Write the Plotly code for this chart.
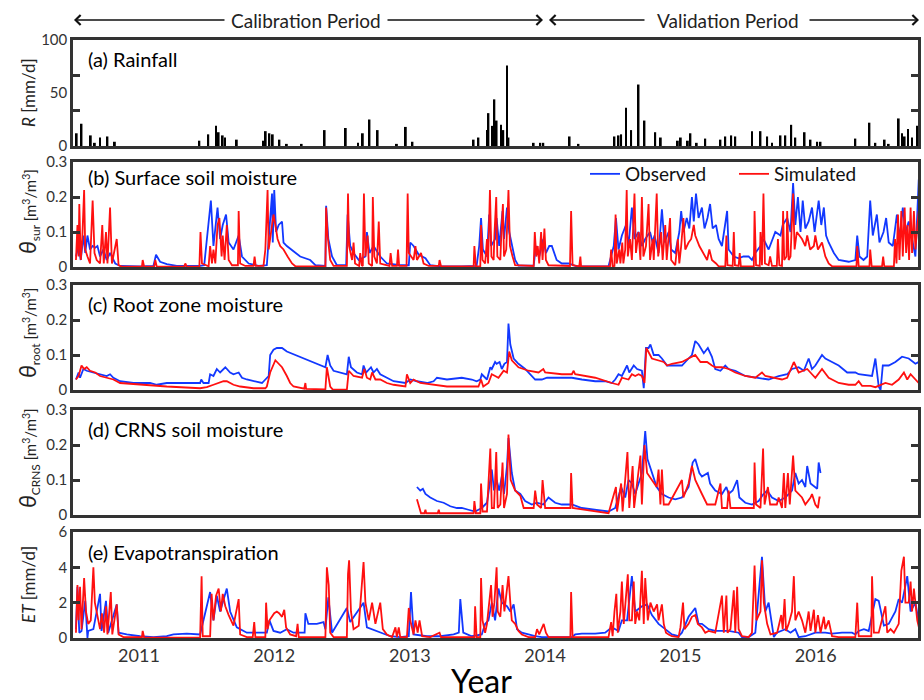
import pandas as pd
import plotly.graph_objects as go

# ---------------------------------------------------------------------------
# Daily series, stored as (day since 2010-01-01, value)
# ---------------------------------------------------------------------------
ORIGIN = pd.Timestamp("2010-01-01")

RAIN = [(197, 12), (210, 21), (235, 10), (246, 3), (260, 8), (280, 9), (300, 4), (528, 5), (552, 11),
        (573, 19), (580, 13), (591, 10), (597, 8), (629, 6), (701, 5), (707, 14), (717, 12), (726, 11),
        (744, 6), (764, 2), (804, 2), (866, 15), (923, 17), (956, 3), (969, 12), (987, 25), (1009, 15),
        (1061, 2), (1085, 18), (1103, 4), (1268, 6), (1281, 8), (1304, 15), (1308, 31), (1319, 19),
        (1324, 44), (1330, 24), (1342, 20), (1348, 15), (1358, 76), (1362, 8), (1430, 3), (1448, 3),
        (1456, 3), (1527, 9), (1551, 2), (1648, 9), (1659, 10), (1666, 11), (1679, 36), (1693, 15),
        (1713, 58), (1729, 24), (1758, 13), (1773, 8), (1819, 5), (1827, 8), (1846, 5), (1853, 12),
        (1870, 3), (1893, 7), (1934, 6), (1947, 9), (1963, 10), (1974, 9), (2019, 14), (2042, 14),
        (2060, 9), (2073, 3), (2096, 10), (2109, 10), (2125, 20), (2136, 8), (2161, 13), (2177, 6),
        (2195, 4), (2204, 4), (2298, 7), (2336, 22), (2352, 3), (2377, 6), (2388, 2), (2415, 26),
        (2424, 12), (2431, 9), (2440, 16), (2451, 8), (2465, 19)]

SUR_OBS = [(195, .03), (202, .06), (208, .02), (215, .09), (220, .04), (226, .09), (233, .05), (240, .06),
           (247, .055), (253, .06), (260, .03), (269, .05), (278, .02), (287, .04), (301, .01), (314, .003),
           (368, .002), (404, .003), (411, .035), (422, .015), (440, .008), (467, .003), (530, .003),
           (541, .005), (559, .19), (566, .06), (577, .17), (584, .08), (591, .12), (600, .15), (607, .07),
           (620, .05), (634, .09), (643, .03), (661, .01), (688, .003), (710, .005), (717, .11), (724, .21),
           (726, .07), (730, .22), (735, .10), (742, .12), (751, .13), (755, .07), (764, .06), (782, .045),
           (800, .03), (827, .02), (841, .005), (868, .003), (870, .175), (876, .08), (886, .03), (899, .005),
           (924, .005), (928, .15), (935, .06), (944, .04), (958, .02), (976, .03), (980, .10), (987, .04),
           (998, .06), (1016, .03), (1034, .01), (1070, .005), (1093, .005), (1097, .07), (1106, .06),
           (1120, .035), (1138, .025), (1151, .005), (1178, .002), (1236, .002), (1276, .003), (1283, .06),
           (1288, .14), (1293, .05), (1304, .03), (1310, .15), (1315, .06), (1326, .08), (1330, .14),
           (1337, .06), (1346, .16), (1350, .08), (1358, .17), (1364, .10), (1371, .06), (1380, .02),
           (1389, .004), (1430, .004), (1436, .06), (1445, .03), (1456, .08), (1463, .04), (1472, .06),
           (1479, .06), (1492, .02), (1506, .01), (1524, .01), (1546, .002), (1632, .002), (1646, .06),
           (1652, .14), (1659, .05), (1668, .09), (1679, .12), (1686, .06), (1695, .17), (1702, .08),
           (1713, .10), (1722, .06), (1731, .08), (1744, .10), (1751, .07), (1756, .09), (1767, .04),
           (1776, .165), (1783, .07), (1794, .10), (1801, .05), (1812, .04), (1823, .10), (1828, .16),
           (1834, .10), (1843, .14), (1850, .11), (1857, .20), (1862, .13), (1868, .21), (1875, .14),
           (1884, .17), (1891, .11), (1899, .14), (1906, .18), (1913, .11), (1922, .12), (1929, .08),
           (1938, .06), (1952, .16), (1956, .05), (1970, .03), (1983, .025), (1996, .03), (2010, .03),
           (2019, .02), (2028, .04), (2042, .06), (2050, .08), (2064, .05), (2082, .10), (2096, .09),
           (2102, .12), (2114, .14), (2123, .10), (2130, .24), (2136, .12), (2143, .20), (2150, .10),
           (2156, .19), (2163, .11), (2172, .13), (2181, .17), (2188, .10), (2199, .19), (2206, .12),
           (2213, .17), (2219, .09), (2226, .07), (2240, .04), (2253, .02), (2280, .015), (2298, .02),
           (2303, .09), (2309, .03), (2320, .02), (2330, .03), (2338, .19), (2345, .09), (2356, .15),
           (2363, .07), (2374, .10), (2381, .14), (2388, .07), (2399, .06), (2404, .10), (2410, .15),
           (2417, .08), (2426, .17), (2433, .10), (2442, .13), (2451, .08), (2460, .03), (2469, .25)]

SUR_SIM = [(195, .02), (199, .12), (202, .03), (204, .18), (208, .02), (212, .08), (217, .22), (220, .05),
           (226, .03), (233, .01), (240, .19), (245, .04), (251, .02), (260, .01), (266, .12), (270, .01),
           (276, .10), (280, .01), (287, .17), (292, .01), (305, .08), (310, .005), (319, .001), (373, .001),
           (375, .02), (379, .001), (406, .001), (409, .02), (413, .001), (487, .001), (490, .01), (494, .001),
           (528, .001), (531, .10), (535, .01), (553, .002), (557, .06), (562, .01), (566, .05), (571, .01),
           (577, .12), (582, .14), (588, .03), (591, .09), (596, .02), (602, .12), (607, .02), (616, .005),
           (632, .005), (634, .16), (638, .01), (652, .003), (674, .003), (677, .03), (680, .003), (701, .003),
           (706, .05), (712, .22), (715, .05), (721, .09), (728, .15), (733, .12), (739, .08), (746, .06),
           (755, .05), (766, .03), (778, .01), (787, .002), (868, .002), (870, .17), (874, .09), (881, .02),
           (890, .003), (926, .003), (929, .21), (932, .06), (940, .02), (944, .07), (948, .01), (959, .003),
           (962, .04), (966, .005), (969, .003), (972, .21), (976, .03), (982, .09), (985, .01), (994, .003),
           (996, .20), (1000, .03), (1007, .01), (1012, .13), (1016, .01), (1041, .003), (1044, .04),
           (1048, .003), (1061, .003), (1064, .05), (1067, .003), (1087, .003), (1090, .21), (1093, .04),
           (1106, .02), (1111, .06), (1115, .02), (1126, .04), (1133, .01), (1147, .003), (1174, .003),
           (1176, .02), (1180, .002), (1268, .002), (1270, .06), (1274, .002), (1286, .002), (1288, .12),
           (1292, .02), (1299, .01), (1304, .08), (1307, .01), (1312, .22), (1316, .03), (1322, .02),
           (1324, .09), (1329, .20), (1332, .03), (1340, .02), (1343, .10), (1347, .18), (1350, .03),
           (1356, .05), (1362, .22), (1366, .06), (1373, .03), (1380, .005), (1430, .003), (1433, .10),
           (1437, .03), (1441, .06), (1445, .01), (1450, .10), (1454, .02), (1459, .11), (1463, .02),
           (1470, .005), (1528, .003), (1531, .16), (1535, .005), (1553, .002), (1556, .03), (1558, .002),
           (1636, .002), (1639, .05), (1643, .002), (1648, .003), (1651, .15), (1654, .01), (1661, .05),
           (1664, .01), (1669, .07), (1672, .01), (1677, .05), (1681, .22), (1684, .03), (1690, .08),
           (1695, .02), (1702, .21), (1706, .04), (1713, .10), (1718, .02), (1722, .20), (1726, .03),
           (1733, .06), (1740, .18), (1744, .02), (1751, .08), (1754, .02), (1762, .21), (1766, .03),
           (1774, .10), (1778, .02), (1785, .12), (1789, .02), (1798, .14), (1801, .02), (1812, .005),
           (1819, .08), (1823, .01), (1828, .06), (1834, .14), (1839, .05), (1848, .07), (1855, .08),
           (1862, .12), (1866, .09), (1877, .06), (1888, .04), (1898, .02), (1904, .05), (1911, .02),
           (1922, .01), (1929, .002), (1947, .002), (1950, .09), (1953, .005), (1967, .003), (1970, .10),
           (1973, .005), (1983, .003), (1986, .04), (1989, .002), (2024, .002), (2026, .16), (2030, .005),
           (2040, .003), (2042, .10), (2046, .005), (2050, .21), (2054, .01), (2064, .005), (2068, .03),
           (2073, .003), (2086, .003), (2089, .08), (2093, .005), (2100, .003), (2103, .16), (2106, .02),
           (2112, .03), (2114, .16), (2118, .02), (2123, .03), (2130, .21), (2134, .05), (2140, .10),
           (2147, .09), (2154, .08), (2163, .06), (2168, .09), (2176, .05), (2186, .06), (2190, .09),
           (2197, .05), (2208, .07), (2217, .03), (2226, .01), (2235, .002), (2301, .002), (2303, .06),
           (2307, .002), (2336, .002), (2338, .05), (2342, .002), (2370, .002), (2373, .03), (2376, .002),
           (2402, .002), (2405, .08), (2409, .01), (2413, .15), (2417, .02), (2422, .16), (2426, .03),
           (2431, .17), (2435, .04), (2439, .12), (2443, .02), (2447, .17), (2451, .04), (2456, .16),
           (2460, .05), (2464, .10), (2469, .16)]

ROOT_OBS = [(195, .03), (202, .05), (206, .035), (215, .06), (224, .055), (242, .05), (260, .045), (278, .04),
            (287, .045), (296, .035), (314, .025), (350, .02), (395, .02), (413, .015), (440, .02), (485, .02),
            (530, .02), (533, .03), (539, .02), (553, .02), (557, .045), (566, .04), (575, .06), (584, .05),
            (598, .065), (611, .05), (620, .045), (634, .05), (643, .035), (656, .03), (674, .025), (697, .02),
            (706, .03), (715, .04), (719, .10), (728, .115), (737, .12), (751, .12), (764, .11), (800, .095),
            (836, .08), (868, .065), (874, .10), (881, .07), (890, .055), (926, .045), (931, .095), (937, .065),
            (953, .05), (967, .045), (971, .07), (978, .05), (991, .065), (998, .05), (1007, .06), (1016, .045),
            (1034, .035), (1052, .025), (1084, .02), (1097, .03), (1115, .025), (1142, .02), (1160, .025),
            (1169, .035), (1196, .03), (1236, .035), (1263, .03), (1276, .025), (1286, .03), (1290, .045),
            (1304, .03), (1313, .065), (1317, .06), (1326, .08), (1330, .075), (1338, .08), (1344, .06),
            (1351, .075), (1358, .08), (1362, .19), (1367, .13), (1376, .09), (1389, .075), (1407, .06),
            (1434, .03), (1452, .03), (1466, .035), (1479, .035), (1506, .035), (1533, .035), (1560, .03),
            (1596, .025), (1623, .025), (1641, .02), (1650, .03), (1659, .045), (1668, .04), (1682, .07),
            (1688, .05), (1700, .07), (1709, .06), (1722, .055), (1727, .005), (1733, .12), (1740, .12),
            (1745, .13), (1754, .10), (1767, .10), (1776, .09), (1790, .07), (1812, .07), (1830, .07),
            (1848, .09), (1857, .10), (1866, .14), (1875, .13), (1889, .105), (1900, .12), (1911, .095),
            (1920, .06), (1934, .055), (1947, .07), (1956, .06), (1974, .055), (2001, .04), (2028, .035),
            (2064, .03), (2091, .04), (2114, .045), (2127, .06), (2145, .065), (2159, .055), (2172, .09),
            (2181, .06), (2190, .07), (2208, .10), (2217, .09), (2235, .08), (2253, .07), (2276, .05),
            (2298, .05), (2307, .045), (2343, .04), (2352, .09), (2361, .01), (2366, .0), (2372, .07),
            (2388, .07), (2406, .08), (2424, .095), (2442, .09), (2460, .075), (2469, .08)]

ROOT_SIM = [(195, .03), (202, .04), (210, .07), (217, .06), (224, .065), (233, .055), (247, .05), (260, .04),
            (278, .035), (296, .03), (314, .02), (368, .015), (440, .01), (530, .005), (548, .008), (566, .015),
            (580, .02), (593, .025), (602, .025), (620, .015), (638, .01), (674, .005), (706, .005), (710, .01),
            (719, .05), (733, .085), (742, .075), (751, .065), (764, .04), (773, .02), (782, .01), (800, .005),
            (811, .004), (814, .02), (816, .003), (868, .002), (872, .065), (881, .01), (888, .001), (926, .001),
            (931, .055), (944, .04), (967, .035), (973, .06), (980, .035), (989, .03), (994, .05), (1003, .03),
            (1016, .03), (1034, .02), (1052, .015), (1084, .01), (1088, .045), (1097, .02), (1106, .03),
            (1124, .02), (1160, .015), (1196, .01), (1236, .01), (1281, .01), (1288, .03), (1294, .01),
            (1308, .02), (1317, .045), (1326, .04), (1335, .035), (1349, .055), (1358, .05), (1364, .11),
            (1371, .085), (1389, .065), (1416, .055), (1443, .05), (1456, .06), (1461, .05), (1506, .045),
            (1533, .045), (1538, .055), (1542, .045), (1596, .035), (1641, .02), (1659, .015), (1668, .035),
            (1686, .03), (1695, .045), (1704, .04), (1713, .045), (1722, .04), (1729, .02), (1734, .12),
            (1749, .09), (1767, .085), (1781, .08), (1790, .07), (1803, .075), (1830, .08), (1848, .09),
            (1866, .10), (1880, .08), (1898, .08), (1911, .07), (1920, .065), (1938, .065), (1956, .06),
            (1974, .05), (2001, .04), (2028, .035), (2046, .05), (2055, .04), (2082, .035), (2100, .03),
            (2114, .035), (2132, .08), (2145, .05), (2168, .06), (2181, .045), (2190, .035), (2208, .06),
            (2226, .035), (2253, .02), (2280, .015), (2298, .015), (2307, .025), (2316, .012), (2339, .012),
            (2352, .008), (2379, .02), (2397, .015), (2415, .03), (2429, .05), (2438, .03), (2447, .045),
            (2460, .03), (2469, .02)]

CRNS_OBS = [(1115, .08), (1124, .07), (1131, .075), (1138, .06), (1151, .05), (1169, .04), (1187, .035),
            (1205, .025), (1223, .02), (1236, .02), (1254, .015), (1272, .01), (1281, .015), (1290, .02),
            (1304, .035), (1310, .08), (1317, .13), (1323, .07), (1330, .10), (1337, .07), (1344, .11),
            (1350, .06), (1358, .14), (1362, .22), (1371, .12), (1380, .07), (1394, .06), (1407, .04),
            (1425, .03), (1439, .035), (1456, .03), (1470, .05), (1488, .035), (1506, .03), (1533, .03),
            (1560, .02), (1596, .015), (1632, .01), (1650, .02), (1666, .08), (1677, .05), (1686, .10),
            (1695, .09), (1704, .06), (1722, .12), (1731, .24), (1737, .16), (1749, .12), (1762, .08),
            (1776, .06), (1794, .05), (1812, .045), (1830, .05), (1848, .08), (1859, .15), (1866, .16),
            (1877, .12), (1884, .11), (1900, .12), (1906, .09), (1920, .07), (1938, .06), (1950, .08),
            (1956, .06), (1967, .07), (1979, .10), (1985, .05), (2001, .035), (2019, .03), (2037, .04),
            (2050, .06), (2060, .07), (2073, .05), (2091, .04), (2109, .05), (2127, .07), (2136, .12),
            (2145, .09), (2154, .10), (2163, .08), (2168, .14), (2177, .09), (2190, .08), (2195, .075),
            (2199, .15), (2204, .12)]

CRNS_SIM = [(1115, .045), (1126, .005), (1135, .005), (1138, .015), (1140, .005), (1171, .005), (1174, .015),
            (1176, .005), (1223, .005), (1268, .005), (1270, .04), (1274, .005), (1286, .005), (1288, .09),
            (1292, .01), (1304, .01), (1313, .19), (1317, .02), (1323, .02), (1329, .18), (1333, .02),
            (1340, .03), (1346, .15), (1350, .02), (1358, .06), (1362, .23), (1368, .10), (1380, .07),
            (1394, .055), (1403, .02), (1430, .02), (1434, .07), (1439, .03), (1450, .02), (1454, .10),
            (1461, .02), (1529, .02), (1531, .12), (1535, .02), (1632, .005), (1652, .08), (1655, .01),
            (1666, .09), (1670, .01), (1683, .18), (1688, .02), (1697, .14), (1701, .02), (1718, .17),
            (1722, .03), (1729, .20), (1736, .12), (1749, .10), (1762, .08), (1767, .13), (1772, .03),
            (1776, .13), (1781, .03), (1794, .03), (1830, .10), (1834, .05), (1848, .09), (1857, .14),
            (1866, .10), (1884, .06), (1898, .03), (1920, .03), (1934, .09), (1938, .02), (1952, .02),
            (1956, .07), (1961, .02), (2024, .02), (2026, .15), (2030, .03), (2042, .02), (2049, .19),
            (2053, .03), (2062, .08), (2068, .03), (2086, .03), (2091, .05), (2100, .02), (2105, .12),
            (2109, .02), (2116, .12), (2121, .03), (2130, .17), (2136, .07), (2154, .05), (2163, .03),
            (2177, .05), (2181, .06), (2190, .03), (2197, .02), (2201, .05), (2204, .05)]

ET_OBS = [(195, .5), (199, 2.9), (204, .3), (210, .4), (220, 2.1), (226, 0), (228, .4), (242, .5), (260, 2.5),
          (264, .4), (276, 2.1), (282, .3), (305, 1.9), (310, .3), (332, .2), (368, .1), (404, .05), (440, .1),
          (458, .2), (494, .25), (530, .2), (557, 2.6), (566, 1.0), (575, 2.4), (584, 1.5), (602, 2.8),
          (611, 1.5), (629, .6), (656, .3), (710, .3), (717, 1.0), (728, .4), (746, .3), (764, .5), (782, .3),
          (812, .3), (814, 1.4), (822, .8), (845, .8), (863, .9), (868, .5), (876, 2.3), (886, .3), (926, 1.7),
          (935, .9), (971, 2.0), (980, .6), (1016, .3), (1043, .1), (1070, .05), (1093, .1), (1099, 2.6),
          (1106, .2), (1142, .1), (1178, .1), (1214, .2), (1228, .3), (1232, 2.2), (1240, .3), (1263, .1),
          (1290, .2), (1299, .8), (1308, 1.0), (1317, 2.0), (1326, 1.0), (1335, 2.8), (1344, 2.0),
          (1358, 1.8), (1367, 1.5), (1376, 1.9), (1385, .5), (1398, .3), (1416, .2), (1434, .1), (1452, .05),
          (1470, .05), (1533, .05), (1542, .2), (1560, .25), (1596, .25), (1623, .3), (1641, .6), (1659, .4),
          (1668, 1.0), (1682, 1.0), (1695, 3.5), (1704, 1.5), (1722, 1.8), (1736, 1.9), (1749, 1.3),
          (1767, .8), (1785, .5), (1803, .2), (1821, .1), (1830, .3), (1848, 1.2), (1866, 1.7), (1875, .8),
          (1884, .8), (1902, .5), (1920, .4), (1956, .4), (1983, .3), (1992, .05), (2010, .05), (2028, .3),
          (2046, 4.6), (2055, 1.5), (2064, 2.0), (2078, .05), (2086, .3), (2109, .5), (2123, .3), (2136, .5),
          (2145, .05), (2163, .1), (2190, .3), (2217, .3), (2235, .25), (2262, .3), (2289, .3), (2298, .2),
          (2307, .4), (2321, .5), (2334, .4), (2352, 2.2), (2361, 2.1), (2375, .7), (2388, .8), (2406, 1.5),
          (2415, 2.2), (2424, 2.0), (2438, 3.5), (2447, 1.5), (2460, 2.0), (2474, .3)]

ET_SIM = [(195, .3), (199, 3.0), (202, 1.0), (206, 2.9), (210, .5), (217, 3.4), (222, 1.5), (228, .8),
          (235, 1.0), (242, 4.0), (246, 2.0), (256, 1.0), (260, .5), (265, 1.4), (271, .3), (276, 1.8),
          (280, .2), (289, 2.6), (293, .2), (305, 1.9), (310, .2), (323, .05), (373, .05), (375, .4),
          (379, .02), (530, .02), (534, 3.5), (537, .1), (557, .1), (561, 2.5), (566, 1.0), (573, 2.4),
          (580, 2.8), (586, 1.5), (591, 2.5), (598, 1.8), (607, 1.3), (620, .7), (634, 2.2), (638, .2),
          (656, .05), (672, .05), (676, .9), (679, .05), (706, .05), (708, 2.0), (712, .5), (717, 1.0),
          (724, 1.2), (730, 1.4), (737, 1.5), (743, 1.4), (751, 1.2), (757, 1.6), (762, .6), (773, .2),
          (789, .1), (793, .8), (796, .05), (868, .05), (872, 4.0), (877, 3.0), (881, .3), (890, .05),
          (926, .05), (929, 3.6), (932, 4.4), (937, 1.5), (944, .5), (958, .7), (971, 4.3), (976, 2.0),
          (985, 1.0), (994, 2.0), (1003, .8), (1016, 2.0), (1023, .5), (1034, .2), (1048, .05), (1057, .6),
          (1061, .05), (1066, .6), (1070, .05), (1088, .05), (1093, 1.7), (1097, 1.0), (1106, .2),
          (1111, 1.0), (1117, .3), (1122, 1.0), (1129, .1), (1151, .05), (1176, .3), (1180, .05),
          (1236, .05), (1270, .05), (1272, 1.8), (1276, .05), (1286, .05), (1288, 3.4), (1292, 1.0),
          (1299, .3), (1304, .8), (1315, 3.0), (1319, 1.2), (1324, 2.0), (1330, 4.0), (1333, 1.5),
          (1340, 1.2), (1346, 3.0), (1351, 1.5), (1362, 3.5), (1367, 2.0), (1371, 1.0), (1380, .8),
          (1389, .4), (1398, .2), (1416, .05), (1434, .05), (1439, .5), (1445, .2), (1452, .6), (1457, .8),
          (1463, .3), (1470, .05), (1529, .05), (1531, 2.6), (1535, .05), (1632, .05), (1639, .9),
          (1643, .1), (1648, 1.5), (1653, 2.5), (1657, .3), (1664, 1.5), (1668, 3.2), (1673, .8),
          (1684, 3.6), (1688, 1.0), (1695, 1.0), (1700, 3.2), (1704, .8), (1709, 1.5), (1715, 1.0),
          (1722, 3.8), (1727, .8), (1731, 3.4), (1738, 1.0), (1745, 2.0), (1754, 1.5), (1763, 1.9),
          (1767, 1.0), (1776, 1.9), (1781, .8), (1787, .3), (1794, .2), (1803, .1), (1821, .05), (1826, .6),
          (1833, 2.0), (1837, .5), (1848, .8), (1857, 1.2), (1866, 1.3), (1873, .8), (1884, .6), (1893, .3),
          (1902, .4), (1920, .3), (1938, 2.4), (1943, .3), (1950, 2.4), (1953, .3), (1961, .5), (1970, 2.7),
          (1974, .3), (1979, 2.9), (1983, .5), (1992, .1), (2010, .05), (2019, .3), (2026, 4.1), (2031, 1.0),
          (2042, 1.5), (2046, 4.4), (2051, 2.0), (2060, .8), (2069, .2), (2087, .3), (2098, 1.3), (2102, .5),
          (2107, 2.2), (2111, .4), (2118, .8), (2127, 1.5), (2132, 3.5), (2136, 1.0), (2145, 1.5),
          (2154, 1.0), (2163, .3), (2172, 1.5), (2177, .4), (2186, 1.6), (2190, .3), (2197, 1.3), (2204, .3),
          (2213, 1.2), (2217, .5), (2226, 1.0), (2235, .1), (2253, .05), (2298, .05), (2303, 2.0), (2307, .1),
          (2316, .1), (2341, .1), (2343, 3.5), (2348, .3), (2361, .3), (2379, 1.8), (2384, .3), (2393, .5),
          (2402, .3), (2415, .8), (2422, 3.8), (2429, 4.6), (2433, 2.0), (2442, 2.0), (2447, 3.2),
          (2451, 1.5), (2456, 2.8), (2465, 1.0), (2474, .2)]

YEARS = [2011, 2012, 2013, 2014, 2015, 2016]
X_START, X_END = "2010-07-07", "2016-10-03"

PANEL_TITLES = ["(a) Rainfall", "(b) Surface soil moisture", "(c) Root zone moisture",
                "(d) CRNS soil moisture", "(e) Evapotranspiration"]

# ---------------------------------------------------------------------------
FONT = "Lato"
BLUE = "#1238ff"
RED = "#ff1010"
FRAME = "#333333"
W, H = 924, 700


def unpack(pairs):
    days, vals = zip(*pairs)
    return ORIGIN + pd.to_timedelta(list(days), unit="D"), list(vals)


def py(px):
    return 1 - px / H


def px_x(px):
    return px / W


x_dom = [px_x(73), px_x(918)]
y_doms = [(40, 146), (162, 267), (285, 390), (410, 515), (532, 638)]

fig = go.Figure()

rd, rv = unpack(RAIN)
fig.add_trace(go.Bar(x=rd, y=rv, width=5 * 86400000, marker=dict(color="black", line_width=0),
                     showlegend=False, xaxis="x", yaxis="y"))

series = [(SUR_OBS, SUR_SIM, 2), (ROOT_OBS, ROOT_SIM, 3), (CRNS_OBS, CRNS_SIM, 4), (ET_OBS, ET_SIM, 5)]
for obs, sim, k in series:
    od, ov = unpack(obs)
    sd, sv = unpack(sim)
    fig.add_trace(go.Scatter(x=od, y=ov, mode="lines", line=dict(color=BLUE, width=1.8),
                             name="Observed", showlegend=(k == 2), xaxis=f"x{k}", yaxis=f"y{k}"))
    fig.add_trace(go.Scatter(x=sd, y=sv, mode="lines", line=dict(color=RED, width=1.8),
                             name="Simulated", showlegend=(k == 2), xaxis=f"x{k}", yaxis=f"y{k}"))

tick_dates = [f"{y}-01-01" for y in YEARS]
layout = dict(
    width=W, height=H, autosize=False, template="none",
    margin=dict(l=0, r=0, t=0, b=0),
    paper_bgcolor="white", plot_bgcolor="white",
    font=dict(family=FONT, color="#222"),
    showlegend=True,
    legend=dict(orientation="h", x=px_x(585), y=py(174), xanchor="left", yanchor="middle",
                font=dict(size=19, color="#111", family=FONT), bgcolor="rgba(0,0,0,0)",
                itemwidth=30, tracegroupgap=0, entrywidthmode="pixels", entrywidth=104),
)

for i in range(5):
    k = "" if i == 0 else str(i + 1)
    top, bot = y_doms[i]
    layout[f"xaxis{k}"] = dict(
        domain=x_dom, anchor=f"y{k}", type="date", range=[X_START, X_END],
        showline=True, linecolor=FRAME, linewidth=2.5, mirror=True, showgrid=False, zeroline=False,
        ticks="", tickvals=tick_dates, ticktext=[str(y) for y in YEARS],
        showticklabels=(i == 4), tickfont=dict(size=18, color="#333", family=FONT), automargin=False,
    )
    ya = dict(
        domain=[py(bot), py(top)], anchor=f"x{k}", showline=True, linecolor=FRAME, linewidth=2.5,
        mirror="allticks", showgrid=False, zeroline=False, ticks="inside", ticklen=7, tickwidth=2.5,
        tickcolor=FRAME, tickfont=dict(size=15, color="#333", family=FONT), automargin=False,
    )
    if i == 0:
        ya.update(range=[0, 100], tickvals=[0, 50, 100], ticktext=["0", "50", "100"], ticks="",
                  minor=dict(tickvals=[100 / 3, 200 / 3], ticks="inside", ticklen=7, tickwidth=2.5,
                             tickcolor=FRAME))
    elif i < 4:
        ya.update(range=[0, 0.3], tickvals=[0, 0.1, 0.2, 0.3], ticktext=["0", "0.1", "0.2", "0.3"])
    else:
        ya.update(range=[0, 6], tickvals=[0, 2, 4, 6], ticktext=["0", "2", "4", "6"])
    layout[f"yaxis{k}"] = ya

fig.update_layout(**layout)

ann = []
# panel titles
label_y = [59, 177, 304, 429, 552]
for t, yy in zip(PANEL_TITLES, label_y):
    ann.append(dict(text=t, x=px_x(86), y=py(yy), xref="paper", yref="paper", xanchor="left",
                    yanchor="middle", showarrow=False, font=dict(size=20, color="black", family=FONT)))

# y-axis titles
unit = "<span style='font-size:15px'> [m<sup>3</sup>/m<sup>3</sup>]</span>"
ytitles = [
    ("<i>R</i> [mm/d]", 93),
    ("<span style='font-size:23px'><i>θ</i></span><sub>sur</sub>" + unit, 212),
    ("<span style='font-size:23px'><i>θ</i></span><sub>root</sub>" + unit, 333),
    ("<span style='font-size:23px'><i>θ</i></span><sub>CRNS</sub>" + unit, 458),
    ("<i>ET</i> [mm/d]", 585),
]
for t, yy in ytitles:
    ann.append(dict(text=t, x=px_x(28), y=py(yy), xref="paper", yref="paper", xanchor="center",
                    yanchor="middle", textangle=-90, showarrow=False,
                    font=dict(size=17, color="#222", family=FONT)))

# x-axis title
ann.append(dict(text="Year", x=px_x(481), y=py(680), xref="paper", yref="paper", showarrow=False,
                xanchor="center", yanchor="middle", font=dict(size=32, color="black", family=FONT)))

# period headers with arrows
ty = py(20)
ann.append(dict(text="Calibration Period", x=px_x(306), y=ty, xref="paper", yref="paper",
                xanchor="center", yanchor="middle",
                showarrow=False, font=dict(size=19, color="#222", family=FONT)))
ann.append(dict(text="Validation Period", x=px_x(728), y=ty, xref="paper", yref="paper",
                xanchor="center", yanchor="middle",
                showarrow=False, font=dict(size=19, color="#222", family=FONT)))
for head, tail in [(74, 226), (543, 386), (549, 646), (919, 808)]:
    ann.append(dict(text="", x=px_x(head), y=ty, xref="paper", yref="paper", showarrow=True,
                    ax=tail - head, ay=0, axref="pixel", ayref="pixel", arrowhead=4, arrowsize=1.3,
                    arrowwidth=1.5, arrowcolor="#111", standoff=0, startstandoff=0))

fig.update_layout(annotations=ann)
fig.write_html("out.html")
